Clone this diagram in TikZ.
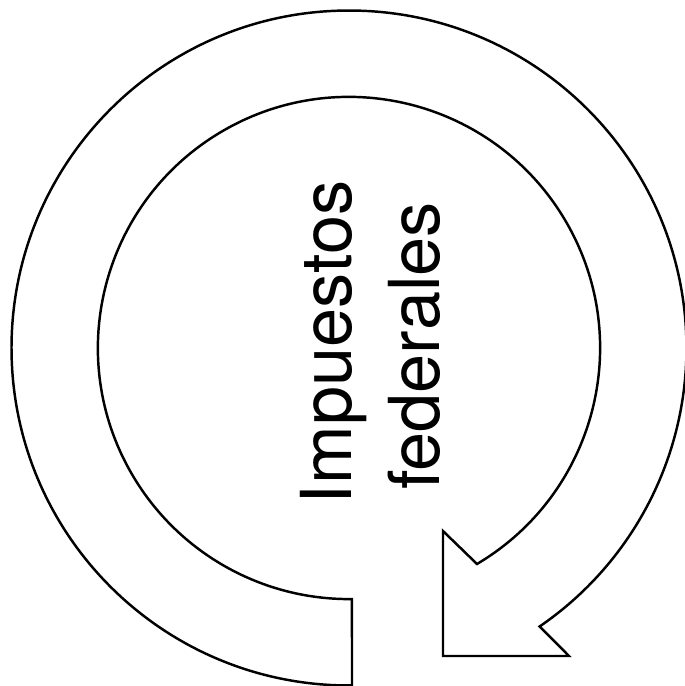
\documentclass[tikz,border=0pt]{standalone}
\usepackage{fontspec}
\setmainfont{TeX Gyre Heros}
\usepackage{tikz}
\usetikzlibrary{calc}

\begin{document}
\begin{tikzpicture}[line width=0.7pt,
    titletext/.style={rotate=90, anchor=base, inner sep=0pt, font=\fontsize{20}{24}\selectfont}]
  \useasboundingbox (-3.49,-3.38) rectangle (3.36,3.48);
  % circular arrow round the title
  \coordinate (c) at (0,0);
  \draw[fill=white] ($(c)+(-89.49:3.375)$) arc[start angle=-89.49, end angle=-415.6, radius=3.375]
    -- (2.20,-3.08) -- (0.94,-3.08) -- (0.94,-1.83) -- (1.28,-2.16)
    arc[start angle=-419.35, end angle=-89.32, radius=2.511] -- cycle;
  \node[titletext] (imp) at (0.03,0.055) {Impuestos};
  \node[titletext] (fed) at (0.905,0.02) {federales};
\end{tikzpicture}
\end{document}
